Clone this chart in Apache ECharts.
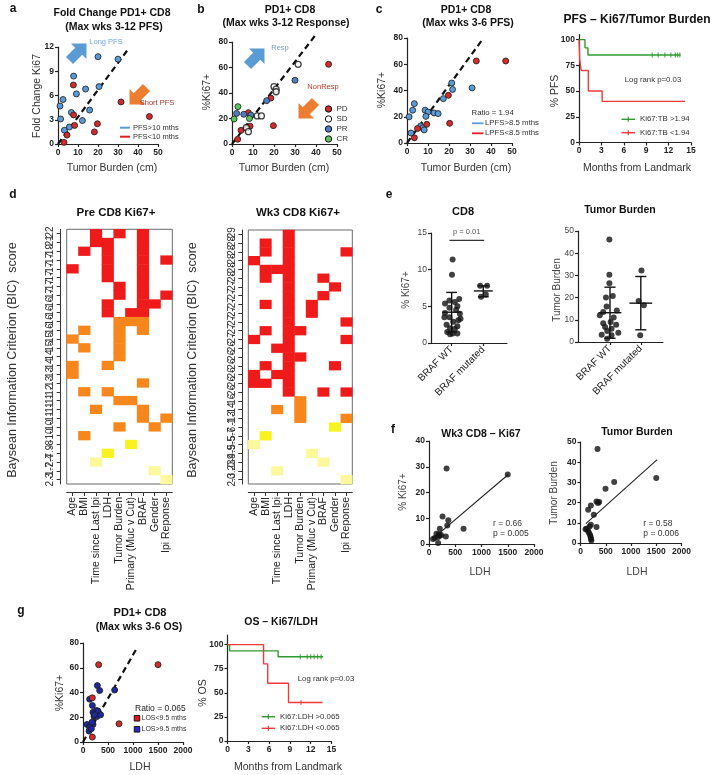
<!DOCTYPE html>
<html>
<head>
<meta charset="utf-8">
<script src="https://cdn.jsdelivr.net/npm/echarts@6/dist/echarts.min.js"></script>
<style>
  html, body { margin: 0; padding: 0; background: #fff; }
  #main { width: 714px; height: 775px; }
</style>
</head>
<body>
<div id="main"></div>
<script>
var FONT = '"Liberation Sans", Arial, sans-serif';

// a  fold change vs tumor burden
var aLongPFS = [[20, 10.8], [30, 10.5], [7.8, 8.4], [20.5, 7.1], [13.8, 6.8], [9.2, 6.2], [2.5, 5.5], [1, 4.7],
  [6.7, 3.9], [15.8, 4.2], [1.3, 3.1], [12.2, 2.9], [3.2, 1.7], [5.7, 2.1]];
var aShortPFS = [[7.7, 7.3], [7.8, 3.6], [8.3, 2.3], [31.5, 5.2], [45.7, 3.4], [19.7, 2.5], [18.2, 1.5], [4.5, 1.1], [3, 0.2]];
var aGuide = [[0, 0], [35, 11.7]];

// b  response groups
var bPD = [[46, 62.5], [18.5, 36], [7.8, 24.6], [8.6, 14], [4.3, 10.7], [19.7, 14.4], [2.7, 3.7]];
var bSD = [[31.5, 62.5], [20, 45], [21, 43], [21, 41], [12, 22], [14, 22], [6.8, 12.8], [7.8, 9.7]];
var bPR = [[30, 50], [16.5, 34], [2.2, 24], [5.6, 23.3], [9, 22.7]];
var bCR = [[2.8, 29.3], [1, 19.6], [8.3, 20]];
var bGuide = [[0, 0], [40, 86]];

// c  ratio split + PFS curves
var cLongPFS = [[1.9, 7.6], [1, 20], [2.7, 25], [3.5, 30], [8.6, 25], [10, 23.6], [9, 20.3], [12.9, 22.9], [14.8, 22.4],
  [17.3, 33.8], [21.3, 45.7], [21.7, 40.8], [31, 42], [6.5, 13], [7.5, 11.5], [8.2, 10]];
var cShortPFS = [[3.5, 4], [5, 11], [9.4, 14.2], [19.7, 36.3], [20.3, 15], [33, 62.5], [47, 62.5]];
var cGuide = [[0, 0], [36, 79]];
var cKmHigh = [[0, 100], [0.8, 92], [1.2, 85], [13.6, 85]];
var cKmHighCensor = [[9.8, 85], [10.6, 85], [11.5, 85], [12.3, 85], [12.9, 85], [13.2, 85], [13.5, 85]];
var cKmLow = [[0, 100], [0.1, 80], [0.3, 70], [1.25, 50], [3.1, 40], [14.2, 40]];

// d  BIC model selection (0 none, 1 red, 2 orange, 3 yellow, 4 pale)
var heatCols = ['Age', 'BMI', 'Time since Last Ipi', 'LDH', 'Tumor Burden', 'Primary (Muc v Cut)', 'BRAF', 'Gender', 'Ipi Reponse'];
var preLabels = ['-22', '-21', '-19', '-17', '-17', '-17', '-17', '-17', '-16', '-16', '-16', '-16', '-15', '-15', '-14',
  '-14', '-13', '-13', '-12', '-11', '-11', '-11', '-10', '-10', '-8', '-7.9', '-2.4', '-1.7', '2.3'];
var preRows = ['001010100', '001100100', '010100100', '000100101', '100100100', '000100100', '000010100', '000010101',
  '000100110', '000101100', '000022200', '020020200', '200020000', '020020000', '000020000', '200200000', '200000000',
  '000000200', '020200000', '000022000', '002000200', '000000202', '000020020', '020000000', '000003000', '000300000',
  '004000000', '000000040', '000000004'];
var wk3Labels = ['-29', '-28', '-28', '-28', '-28', '-28', '-27', '-27', '-27', '-27', '-27', '-27', '-27', '-26', '-26',
  '-26', '-26', '-26', '-26', '-16', '-14', '-13', '-6.1', '-5.7', '-5.5', '-4.9', '-0.9', '-0.23', '2.3'];
var wk3Rows = ['000100000', '010100000', '010100001', '100100000', '011100000', '010100100', '000100010', '000100100',
  '010101000', '000101000', '000100001', '010110000', '100100001', '001100000', '000110000', '010100010', '101100000',
  '110100000', '000100101', '000020000', '002020000', '000020002', '000000030', '030000000', '400000000', '000004000',
  '000000400', '004000000', '000000004'];

// e  BRAF groups (x: 1 = WT, 2 = mutated)
var braf = ['BRAF WT', 'BRAF mutated'];
var eCd8WT = [[1.03, 11.4], [1.01, 9.3], [1.24, 6.0], [0.93, 5.8], [1.1, 5.6], [0.79, 5.4], [1.18, 5.0], [0.93, 4.8],
  [1.14, 4.5], [0.79, 4.1], [1.26, 4.0], [0.77, 3.5], [0.93, 3.5], [1.28, 3.3], [1.05, 2.9], [1.21, 3.1], [0.84, 2.5],
  [1.18, 2.3], [0.95, 2.0], [1.1, 1.9], [0.86, 1.5], [1.03, 1.3], [1.18, 1.3], [0.95, 1.2]];
var eCd8Mut = [[1.9, 7.8], [2.12, 7.8], [1.93, 6.3], [2.08, 6.6]];
var eCd8Stats = [[1, 4.2, 1.5, 6.9], [2, 7.1, 6.3, 7.8]];
var eCd8Bracket = [[0.93, 14], [2.03, 14]];
var eTbWT = [[0.98, 46.2], [0.98, 30.3], [0.98, 26.5], [0.87, 20], [1.09, 20.7], [0.89, 16], [1.22, 14.2], [0.78, 13.5],
  [0.67, 12], [0.78, 8.5], [1.02, 9], [1.2, 7.8], [0.84, 6.8], [1.05, 6], [0.91, 5], [1.27, 4.2], [0.73, 3.3], [1.05, 3],
  [0.91, 1.5], [1.12, 11]];
var eTbMut = [[2.02, 32.2], [1.93, 18.5], [2.1, 16.5], [1.98, 3]];
var eTbStats = [[1, 13.2, 1.7, 24.7], [2, 17.5, 5.5, 29.5]];

// f  LDH correlations
var fKi67 = [[335, 29.3], [1500, 27], [258, 10.7], [368, 9.2], [348, 7.2], [658, 5.9], [206, 5.9], [142, 4], [206, 3.2],
  [174, 2.7], [110, 2.3], [77, 1.9], [320, 2.9], [174, 0.4], [230, 3.5], [190, 3.8]];
var fKi67Fit = [[80, 2.2], [1510, 27]];
var fTb = [[337, 46.5], [1500, 32.2], [667, 30.2], [495, 26.9], [317, 20.6], [370, 20.3], [345, 19.8], [205, 18.6],
  [152, 16.5], [264, 14], [317, 7.9], [205, 9], [180, 8.2], [120, 7], [150, 6], [170, 5], [190, 4], [200, 3], [210, 2],
  [215, 1.2], [100, 6.8]];
var fTbFit = [[106, 9.6], [1518, 41.3]];

// g  OS split by Ki67/LDH
var gShortOS = [[313, 62.5], [1500, 62.5], [187, 35.7], [720, 14.7], [187, 4]];
var gLongOS = [[287, 45.6], [333, 41.6], [633, 42], [133, 34.6], [187, 29.5], [200, 24], [267, 25.5], [300, 25],
  [220, 20.6], [280, 20.6], [353, 22], [80, 14.2], [200, 14.2], [133, 12], [120, 8.8], [167, 10.7], [230, 22], [180, 16]];
var gGuide = [[0, 0], [1080, 76]];
var gKmHigh = [[0, 100], [0.3, 93.5], [7.3, 87.5], [13.8, 87.5]];
var gKmHighCensor = [[10.5, 87.5], [11.5, 87.5], [12, 87.5], [12.5, 87.5], [13, 87.5], [13.5, 87.5]];
var gKmLow = [[0, 100], [5.2, 80], [5.8, 60], [8.8, 40], [13.7, 40]];
var gKmLowCensor = [[10.6, 40]];

var BLUE = '#5b9bd5', RED = '#d42a2a', GREEN = '#2f9a2f', KMRED = '#f03b3b';

var grid = [], xAxis = [], yAxis = [], series = [], graphic = [];

function mkAxis(gi, dir, o) {
  var ax = {
    gridIndex: gi, type: 'value', position: dir === 'x' ? 'bottom' : 'left',
    splitLine: { show: false },
    axisLine: { show: true, onZero: false, lineStyle: { color: '#222', width: 1.2 } },
    axisTick: { show: true, length: 3, lineStyle: { color: '#222', width: 1.2 } },
    axisLabel: { fontFamily: FONT, fontSize: 8.5, fontWeight: 'bold', color: '#222', margin: 4,
      formatter: function (v) { return String(v); } }
  };
  for (var k in o) {
    if (k === 'axisLabel' || k === 'axisTick' || k === 'axisLine') ax[k] = Object.assign({}, ax[k], o[k]);
    else ax[k] = o[k];
  }
  return ax;
}
function addPanel(box, xo, yo) {
  var gi = grid.length;
  grid.push({ left: box[0], top: box[1], width: box[2], height: box[3] });
  xAxis.push(mkAxis(gi, 'x', xo));
  yAxis.push(mkAxis(gi, 'y', yo));
  return gi;
}
function dots(gi, data, color, size, extra) {
  series.push(Object.assign({
    type: 'scatter', xAxisIndex: gi, yAxisIndex: gi, data: data, symbolSize: size || 6, silent: true, z: 4,
    itemStyle: { color: color, borderColor: '#1a1a1a', borderWidth: 0.8, opacity: 1 }
  }, extra || {}));
}
function path(gi, data, lineStyle, extra) {
  series.push(Object.assign({
    type: 'line', xAxisIndex: gi, yAxisIndex: gi, data: data, showSymbol: false, symbol: 'none',
    silent: true, z: 3, lineStyle: lineStyle
  }, extra || {}));
}
function censor(gi, data, color) {
  dots(gi, data, color, [1.2, 5], { symbol: 'rect', itemStyle: { color: color, borderWidth: 0 } });
}
function errBars(gi, stats, meanHalf, capHalf) {
  series.push({
    type: 'custom', xAxisIndex: gi, yAxisIndex: gi, data: stats, silent: true, z: 5,
    renderItem: function (params, api) {
      var x = api.value(0);
      var pm = api.coord([x, api.value(1)]), pl = api.coord([x, api.value(2)]), ph = api.coord([x, api.value(3)]);
      var mw = api.size([meanHalf, 0])[0], cw = api.size([capHalf, 0])[0];
      var st = { stroke: '#111', lineWidth: 1.4 };
      return {
        type: 'group', children: [
          { type: 'line', shape: { x1: pl[0], y1: pl[1], x2: ph[0], y2: ph[1] }, style: st },
          { type: 'line', shape: { x1: pm[0] - mw, y1: pm[1], x2: pm[0] + mw, y2: pm[1] }, style: st },
          { type: 'line', shape: { x1: pl[0] - cw, y1: pl[1], x2: pl[0] + cw, y2: pl[1] }, style: st },
          { type: 'line', shape: { x1: ph[0] - cw, y1: ph[1], x2: ph[0] + cw, y2: ph[1] }, style: st }
        ]
      };
    }
  });
}
function heatData(rows) {
  var out = [];
  rows.forEach(function (r, ri) {
    for (var ci = 0; ci < r.length; ci++) {
      if (r[ci] !== '0') out.push([ci, ri, +r[ci]]);
    }
  });
  return out;
}
function addHeat(box, labels, rows) {
  var gi = grid.length;
  grid.push({ left: box[0], top: box[1], width: box[2], height: box[3], show: true,
    borderColor: '#6a6a6a', borderWidth: 1, backgroundColor: 'rgba(0,0,0,0)' });
  xAxis.push({ gridIndex: gi, type: 'category', data: heatCols, position: 'bottom', offset: 8,
    splitLine: { show: false },
    axisLine: { show: true, lineStyle: { color: '#333', width: 1 } },
    axisTick: { show: true, alignWithLabel: true, length: 4, lineStyle: { color: '#333' } },
    axisLabel: { interval: 0, rotate: 90, fontFamily: FONT, fontSize: 10.5, color: '#222', margin: 5 } });
  yAxis.push({ gridIndex: gi, type: 'category', data: labels, inverse: true, offset: 6,
    splitLine: { show: false },
    axisLine: { show: true, lineStyle: { color: '#333', width: 1 } },
    axisTick: { show: true, alignWithLabel: true, length: 4, interval: 0, lineStyle: { color: '#333' } },
    axisLabel: { interval: 0, rotate: 90, fontFamily: FONT, fontSize: 10, color: '#333', margin: 5 } });
  var si = series.length;
  series.push({ type: 'heatmap', xAxisIndex: gi, yAxisIndex: gi, data: heatData(rows), silent: true });
  return si;
}

// graphic helpers
function label(x, y, s, o) {
  var st = { text: s, fontFamily: FONT, fontSize: 10.5, fill: '#333', align: 'center', verticalAlign: 'middle' };
  var el = { type: 'text', x: x, y: y, silent: true, z: 10, style: st };
  for (var k in (o || {})) {
    if (k === 'rot') el.rotation = o[k]; else st[k] = o[k];
  }
  graphic.push(el);
}
function title(x, y, s, size) { label(x, y, s, { fontWeight: 'bold', fontSize: size || 10.5, fill: '#111' }); }
function note(x, y, s, size, color) { label(x, y, s, { align: 'left', fontSize: size || 7.5, fill: color || '#333' }); }
function seg(x1, y1, x2, y2, color, w) {
  graphic.push({ type: 'line', silent: true, z: 10, shape: { x1: x1, y1: y1, x2: x2, y2: y2 },
    style: { stroke: color, lineWidth: w || 1.5 } });
}
function ring(x, y, r, fill) {
  graphic.push({ type: 'circle', silent: true, z: 10, shape: { cx: x, cy: y, r: r },
    style: { fill: fill, stroke: '#111', lineWidth: 1 } });
}
function box(x, y, s, fill) {
  graphic.push({ type: 'rect', silent: true, z: 10, shape: { x: x - s / 2, y: y - s / 2, width: s, height: s },
    style: { fill: fill, stroke: '#111', lineWidth: 1 } });
}
var ARROW = [[-12, -5], [1, -5], [1, -11], [12, 0], [1, 11], [1, 5], [-12, 5]];
function arrow(x, y, rot, color) {
  graphic.push({ type: 'polygon', silent: true, z: 9, x: x, y: y, rotation: rot, shape: { points: ARROW },
    style: { fill: color } });
}
function kmKey(x1, x2, y, color, s) {
  seg(x1, y, x2, y, color, 1.4);
  seg((x1 + x2) / 2, y - 2.5, (x1 + x2) / 2, y + 2.5, color, 1.2);
  note(x2 + 5, y, s, 7.8);
}
var V = Math.PI / 2;
var dashed = { color: '#111', width: 2.2, type: [6, 4] };

// ---- a ----
var ga = addPanel([58, 47, 100, 97], { min: 0, max: 50, interval: 10 }, { min: 0, max: 12, interval: 3 });
path(ga, aGuide, dashed);
dots(ga, aLongPFS, BLUE);
dots(ga, aShortPFS, RED);

// ---- b ----
var gb = addPanel([232, 42, 105, 102], { min: 0, max: 50, interval: 10 }, { min: 0, max: 80, interval: 20 });
path(gb, bGuide, dashed, { clip: false });
dots(gb, bPD, RED);
dots(gb, bSD, '#fff', 6, { itemStyle: { color: '#fff', borderColor: '#111', borderWidth: 1.3 } });
dots(gb, bPR, '#4f7fc4');
dots(gb, bCR, '#5cc65c');

// ---- c ----
var gc = addPanel([407, 38, 105, 105], { min: 0, max: 50, interval: 10 }, { min: 0, max: 80, interval: 20 });
path(gc, cGuide, dashed);
dots(gc, cLongPFS, BLUE);
dots(gc, cShortPFS, RED);

var gck = addPanel([579, 34.5, 112, 108], { min: 0, max: 15, interval: 3 },
  { min: 0, max: 105, axisLabel: { customValues: [0, 25, 50, 75, 100] }, axisTick: { customValues: [0, 25, 50, 75, 100] } });
path(gck, cKmHigh, { color: GREEN, width: 1.4 }, { step: 'end' });
path(gck, cKmLow, { color: KMRED, width: 1.4 }, { step: 'end' });
censor(gck, cKmHighCensor, GREEN);

// ---- d ----
var hL = addHeat([66.7, 229.3, 105.6, 254.7], preLabels, preRows);
var hR = addHeat([248.3, 230, 104, 254], wk3Labels, wk3Rows);

// ---- e ----
var eXL = { min: 0.347, max: 2.75, axisTick: { customValues: [1, 2] },
  axisLabel: { customValues: [1, 2], rotate: 45, fontWeight: 'normal', fontSize: 10, color: '#222', margin: 5,
    formatter: function (v) { return braf[Math.round(v) - 1]; } } };
var ge1 = addPanel([431, 233, 76, 110], eXL,
  { min: 0, max: 15, interval: 5, axisLabel: { fontWeight: 'normal', color: '#444' } });
errBars(ge1, eCd8Stats, 0.3, 0.17);
dots(ge1, eCd8WT, '#111', 6, { itemStyle: { color: '#111' } });
dots(ge1, eCd8Mut, '#111', 6, { itemStyle: { color: '#111' } });
path(ge1, eCd8Bracket, { color: '#333', width: 1.2 });

var eXR = Object.assign({}, eXL, { min: -0.038, max: 2.72 });
var ge2 = addPanel([578, 231, 85, 111], eXR,
  { min: 0, max: 50, interval: 10, axisLabel: { fontWeight: 'normal', color: '#444' } });
errBars(ge2, eTbStats, 0.37, 0.18);
dots(ge2, eTbWT, '#111', 6, { itemStyle: { color: '#111' } });
dots(ge2, eTbMut, '#111', 6, { itemStyle: { color: '#111' } });

// ---- f ----
var gf1 = addPanel([429, 441, 105, 103], { min: 0, max: 2000, interval: 500 }, { min: 0, max: 40, interval: 10 });
path(gf1, fKi67Fit, { color: '#222', width: 1.1 });
dots(gf1, fKi67, '#111', 6, { itemStyle: { color: '#111' } });
var gf2 = addPanel([580.5, 442, 101, 101], { min: 0, max: 2000, interval: 500 }, { min: 0, max: 50, interval: 10 });
path(gf2, fTbFit, { color: '#222', width: 1.1 });
dots(gf2, fTb, '#111', 6, { itemStyle: { color: '#111' } });

// ---- g ----
var gg = addPanel([83, 643, 100, 99], { min: 0, max: 2000, interval: 500 }, { min: 0, max: 80, interval: 20 });
path(gg, gGuide, dashed);
dots(gg, gLongOS, '#1f2a9a');
dots(gg, gShortOS, RED);
var ggk = addPanel([227.5, 635, 104, 106], { min: 0, max: 15, interval: 3 },
  { min: 0, max: 110, axisLabel: { customValues: [0, 25, 50, 75, 100] }, axisTick: { customValues: [0, 25, 50, 75, 100] } });
path(ggk, gKmHigh, { color: GREEN, width: 1.4 }, { step: 'end' });
path(ggk, gKmLow, { color: KMRED, width: 1.4 }, { step: 'end' });
censor(ggk, gKmHighCensor, GREEN);
censor(ggk, gKmLowCensor, KMRED);

// ---- texts ----
['a', 'b', 'c', 'd', 'e', 'f', 'g'].forEach(function (s, i) {
  var pos = [[13, 9], [201, 10], [379, 10], [13, 195], [389, 195], [393, 430], [21, 611]][i];
  label(pos[0], pos[1], s, { fontWeight: 'bold', fontSize: 12, fill: '#111' });
});
title(112, 13, 'Fold Change PD1+ CD8'); title(114, 27, '(Max wks 3-12 PFS)');
title(290, 10, 'PD1+ CD8'); title(286, 23, '(Max wks 3-12 Response)');
title(466, 10, 'PD1+ CD8'); title(468, 23, '(Max wks 3-6 PFS)');
title(637, 20, 'PFS \u2013 Ki67/Tumor Burden', 12);
title(116, 213, 'Pre CD8 Ki67+', 11.5); title(298, 213, 'Wk3 CD8 Ki67+', 11.5);
title(463, 212, 'CD8', 11); title(620, 210, 'Tumor Burden');
title(481, 434, 'Wk3 CD8 \u2013 Ki67'); title(637, 432, 'Tumor Burden');
title(140, 613, 'PD1+ CD8', 11); title(139, 627, '(Max wks 3-6 OS)');
title(281, 622, 'OS \u2013 Ki67/LDH');

var rot = { rot: V };
label(37, 96, 'Fold Change Ki67', rot);
label(112, 168, 'Tumor Burden (cm)');
label(207, 92, '%Ki67+', rot);
label(284, 168, 'Tumor Burden (cm)');
label(382, 90, '%Ki67+', rot);
label(466, 168, 'Tumor Burden (cm)');
label(555, 91, '% PFS', rot);
label(637, 168, 'Months from Landmark');
label(13, 360, 'Baysean Information Criterion (BIC)  score', { rot: V, fontSize: 12.5 });
label(193, 360, 'Baysean Information Criterion (BIC)  score', { rot: V, fontSize: 12.5 });
label(406, 290, '% Ki67+', { rot: V, fill: '#444', fontSize: 10 });
label(557, 290, 'Tumor Burden', { rot: V, fill: '#444', fontSize: 10 });
label(403, 492, '% Ki67+', { rot: V, fill: '#444', fontSize: 10 });
label(480, 572, 'LDH', { fill: '#444', fontSize: 10.5 });
label(554, 493, 'Tumor Burden', { rot: V, fill: '#444', fontSize: 10 });
label(637, 572, 'LDH', { fill: '#444', fontSize: 10.5 });
label(60, 693, '%Ki67+', rot);
label(140, 767, 'LDH');
label(203, 693, '% OS', rot);
label(288, 767, 'Months from Landmark');

// a annotations
arrow(78, 52, Math.PI / 4, BLUE);
arrow(138, 96, Math.PI * 5 / 4, '#ed7d31');
label(106, 42, 'Long PFS', { fontSize: 7.5, fill: '#6fa8dc' });
label(157, 103, 'Short PFS', { fontSize: 7.5, fill: '#a53030' });
seg(120, 127.7, 130, 127.7, BLUE, 2);
seg(120, 136.7, 130, 136.7, '#e02020', 2);
note(133, 127.7, 'PFS>10 mths');
note(133, 136.7, 'PFS<10 mths');

// b annotations
arrow(256, 57, Math.PI / 4, BLUE);
arrow(307, 110, Math.PI * 5 / 4, '#ed7d31');
label(280, 48, 'Resp', { fontSize: 7.5, fill: '#7f9fc0' });
label(323, 87, 'NonResp', { fontSize: 7.5, fill: '#c0392b' });
[['PD', RED], ['SD', '#fff'], ['PR', '#4f7fc4'], ['CR', '#5cc65c']].forEach(function (k, i) {
  var y = 109 + i * 10;
  ring(328.5, y, 3.2, k[1]);
  note(336.5, y, k[0], 8);
});

// c annotations
note(471.5, 113.3, 'Ratio = 1.94', 7.8);
seg(472, 123.3, 483.5, 123.3, BLUE, 1.8);
seg(472, 133.3, 483.5, 133.3, '#e02020', 1.8);
note(485, 123.3, 'LPFS>8.5 mths', 7.8);
note(485, 133.3, 'LPFS<8.5 mths', 7.8);
label(653, 80, 'Log rank p=0.03', { fontSize: 7.8 });
kmKey(621.5, 635, 119.3, GREEN, 'Ki67:TB >1.94');
kmKey(621.5, 635, 132.7, KMRED, 'Ki67:TB <1.94');

// e / f annotations
label(466.7, 232, 'p = 0.01', { fontSize: 7.5, fill: '#555' });
note(493, 523.3, 'r = 0.66', 8.5);
note(493, 533.3, 'p = 0.005', 8.5);
note(643.3, 523.3, 'r = 0.58', 8.5);
note(643.3, 533.3, 'p = 0.006', 8.5);

// g annotations
note(135, 709, 'Ratio = 0.065', 8.5, '#222');
box(137, 718.3, 5.5, '#e01818');
box(137, 729.3, 5.5, '#2a2ad0');
note(141.5, 718.3, 'LOS<9.5 mths', 7);
note(141.5, 729.3, 'LOS>9.5 mths', 7);
label(326, 679.3, 'Log rank p=0.03', { fontSize: 7.8 });
kmKey(261.7, 275, 716.7, GREEN, 'Ki67:LDH >0.065');
kmKey(261.7, 275, 728.3, KMRED, 'Ki67:LDH <0.065');

var myChart = echarts.init(document.getElementById('main'));
myChart.setOption({
  animation: false,
  backgroundColor: '#fff',
  grid: grid,
  xAxis: xAxis,
  yAxis: yAxis,
  visualMap: [{
    type: 'piecewise', show: false, dimension: 2, seriesIndex: [hL, hR],
    pieces: [
      { value: 1, color: '#ef1b1b' },
      { value: 2, color: '#f7861c' },
      { value: 3, color: '#f8f31e' },
      { value: 4, color: '#fbf99c' }
    ]
  }],
  series: series,
  graphic: graphic
});
window.addEventListener('resize', function () {
  myChart.resize();
});
</script>
</body>
</html>
